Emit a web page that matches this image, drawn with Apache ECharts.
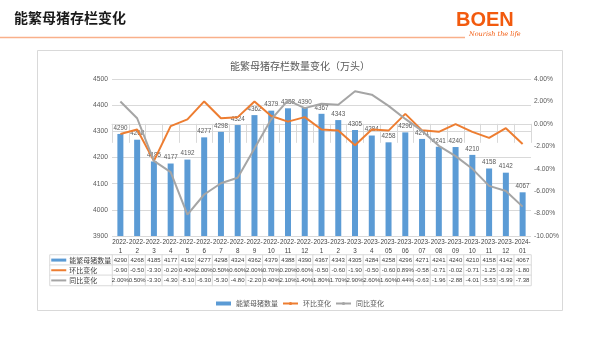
<!DOCTYPE html>
<html><head><meta charset="utf-8">
<script src="https://cdn.jsdelivr.net/npm/echarts@6/dist/echarts.min.js"></script>
<style>html,body{margin:0;padding:0;background:#fff}#c{width:600px;height:337px}</style>
</head><body><div id="c"></div>
<script>
const months = ['2022-1','2022-2','2022-3','2022-4','2022-5','2022-6','2022-7','2022-8','2022-9','2022-10','2022-11','2022-12',
  '2023-1','2023-2','2023-3','2023-4','2023-05','2023-06','2023-07','2023-08','2023-09','2023-10','2023-11','2023-12','2024-01'];
const stock = [4290,4268,4185,4177,4192,4277,4298,4324,4362,4379,4388,4390,4367,4343,4305,4284,4258,4296,4271,4241,4240,4210,4158,4142,4067];
const mom = [-0.90,-0.50,-3.30,-0.20,0.40,2.00,0.50,0.60,2.00,0.70,0.20,0.60,-0.50,-0.60,-1.90,-0.50,-0.60,0.89,-0.58,-0.71,-0.02,-0.71,-1.25,-0.39,-1.80];
const yoy = [2.00,0.50,-3.30,-4.30,-8.10,-6.30,-5.30,-4.80,-2.20,0.40,2.10,1.40,1.80,1.70,2.90,2.60,1.60,0.44,-0.63,-1.96,-2.88,-4.01,-5.53,-5.99,-7.38];
const seriesNames = ['能繁母猪数量','环比变化','同比变化'];
const leftAxis = [3900, 4500, 100];
const rightAxis = [-10, 4, 2];

const NUM = '"Liberation Sans",Arial,sans-serif';
const CJK = '"Noto Sans CJK SC","Noto Sans",sans-serif';
const C_BAR = '#5b9bd5', C_MOM = '#ed7d31', C_YOY = '#a5a5a5', C_GRID = '#d9d9d9', C_TXT = '#595959';
const fmtPct = v => v < 0 ? v.toFixed(2) : v.toFixed(2) + '%';
const rowsData = [stock, mom, yoy];

const cells = [];
for (let r = 0; r < 3; r++) for (let i = 0; i < months.length; i++) cells.push([i, r, 0]);
const legendCells = [[0,0,0],[0,1,0],[0,2,0]];

const chart = echarts.init(document.getElementById('c'), null, {renderer: 'canvas'});
chart.setOption({
  animation: false,
  backgroundColor: '#fff',
  title: {
    text: '能繁母猪存栏数量变化（万头）', left: 'center', top: 56,
    textStyle: {fontSize: 10, fontWeight: 'normal', color: C_TXT, fontFamily: CJK}
  },
  legend: {
    top: 295, left: 'center', itemWidth: 15, itemHeight: 4, itemGap: 4,
    textStyle: {fontSize: 7, color: C_TXT, fontFamily: CJK},
    data: [{name: seriesNames[0], icon: 'rect'}, seriesNames[1], seriesNames[2]]
  },
  graphic: [
    {type: 'rect', z: -10, shape: {x: 37.5, y: 50.5, width: 525, height: 260}, style: {fill: 'none', stroke: '#d9d9d9', lineWidth: 1}},
    {type: 'text', left: 14, top: 11, style: {text: '能繁母猪存栏变化', fontSize: 14, fontWeight: 'bold', fill: '#1a1a1a', fontFamily: CJK}},
    {type: 'line', shape: {x1: 0, y1: 37.5, x2: 465, y2: 37.5}, style: {stroke: '#f9b08a', lineWidth: 1.5}},
    {type: 'text', left: 456, top: 10, style: {text: 'BOEN', fontSize: 20, fontWeight: 'bold', fill: '#f25a0e', fontFamily: NUM}},
    {type: 'text', left: 469, top: 31, style: {text: 'Nourish the life', fontSize: 6.5, fontStyle: 'italic', fill: '#f25a0e', fontFamily: '"DejaVu Serif",serif'}}
  ],
  grid: [
    {left: 112, right: 69, top: 79, height: 157},
    {left: 112, right: 69, top: 255, height: 30.5},
    {left: 50, width: 62, top: 255, height: 30.5}
  ],
  xAxis: [
    {gridIndex: 0, type: 'category', data: months,
      axisLine: {lineStyle: {color: C_GRID}},
      axisTick: {show: true, length: 19, lineStyle: {color: C_GRID}},
      axisLabel: {interval: 0, formatter: s => s.replace('-', '-\n'), fontSize: 6.3, lineHeight: 9, color: '#404040', margin: 1.5, fontFamily: NUM}},
    {gridIndex: 1, type: 'category', data: months, show: false},
    {gridIndex: 2, type: 'category', data: [''], show: false}
  ],
  yAxis: [
    {gridIndex: 0, type: 'value', min: leftAxis[0], max: leftAxis[1], interval: leftAxis[2],
      axisLine: {show: false}, axisTick: {show: false},
      splitLine: {lineStyle: {color: C_GRID}},
      axisLabel: {fontSize: 6.7, color: C_TXT, margin: 4, fontFamily: NUM, formatter: v => String(v)}},
    {gridIndex: 0, type: 'value', position: 'right', min: rightAxis[0], max: rightAxis[1], interval: rightAxis[2],
      axisLine: {show: false}, axisTick: {show: false}, splitLine: {show: false},
      axisLabel: {fontSize: 6.7, color: C_TXT, margin: 3, fontFamily: NUM, formatter: v => v.toFixed(2) + '%'}},
    {gridIndex: 1, type: 'category', data: seriesNames, inverse: true, show: false},
    {gridIndex: 2, type: 'category', data: seriesNames, inverse: true, show: false}
  ],
  series: [
    {name: seriesNames[0], type: 'bar', xAxisIndex: 0, yAxisIndex: 0, data: stock, barWidth: 6,
      itemStyle: {color: C_BAR},
      label: {show: true, position: 'top', distance: 3, fontSize: 6.3, color: C_TXT, fontFamily: NUM}},
    {name: seriesNames[1], type: 'line', xAxisIndex: 0, yAxisIndex: 1, data: mom, symbol: 'none',
      itemStyle: {color: C_MOM}, lineStyle: {color: C_MOM, width: 2}},
    {name: seriesNames[2], type: 'line', xAxisIndex: 0, yAxisIndex: 1, data: yoy, symbol: 'none',
      itemStyle: {color: C_YOY}, lineStyle: {color: C_YOY, width: 2}},
    {name: 'table', type: 'heatmap', xAxisIndex: 1, yAxisIndex: 2, data: cells, silent: true,
      itemStyle: {color: '#fff', borderColor: C_GRID, borderWidth: 1},
      emphasis: {disabled: true},
      label: {show: true, fontSize: 6, color: '#404040', fontFamily: NUM,
        formatter: p => { const xi = p.data[0], r = p.data[1]; const v = rowsData[r][xi]; return r === 0 ? String(v) : fmtPct(v); }}},
    {name: 'tableKeys', type: 'heatmap', xAxisIndex: 2, yAxisIndex: 3, data: legendCells, silent: true,
      itemStyle: {color: '#fff', borderColor: C_GRID, borderWidth: 1},
      emphasis: {disabled: true},
      label: {show: true, position: 'insideLeft', distance: 2,
        formatter: p => '{k' + p.data[1] + '|}{t|' + seriesNames[p.data[1]] + '}',
        rich: {
          k0: {width: 15, height: 3, backgroundColor: C_BAR, verticalAlign: 'middle'},
          k1: {width: 15, height: 2, backgroundColor: C_MOM, verticalAlign: 'middle'},
          k2: {width: 15, height: 2, backgroundColor: C_YOY, verticalAlign: 'middle'},
          t: {fontSize: 7, color: '#404040', fontFamily: CJK, padding: [0, 0, 0, 3], verticalAlign: 'middle'}
        }}}
  ]
});
</script></body></html>
